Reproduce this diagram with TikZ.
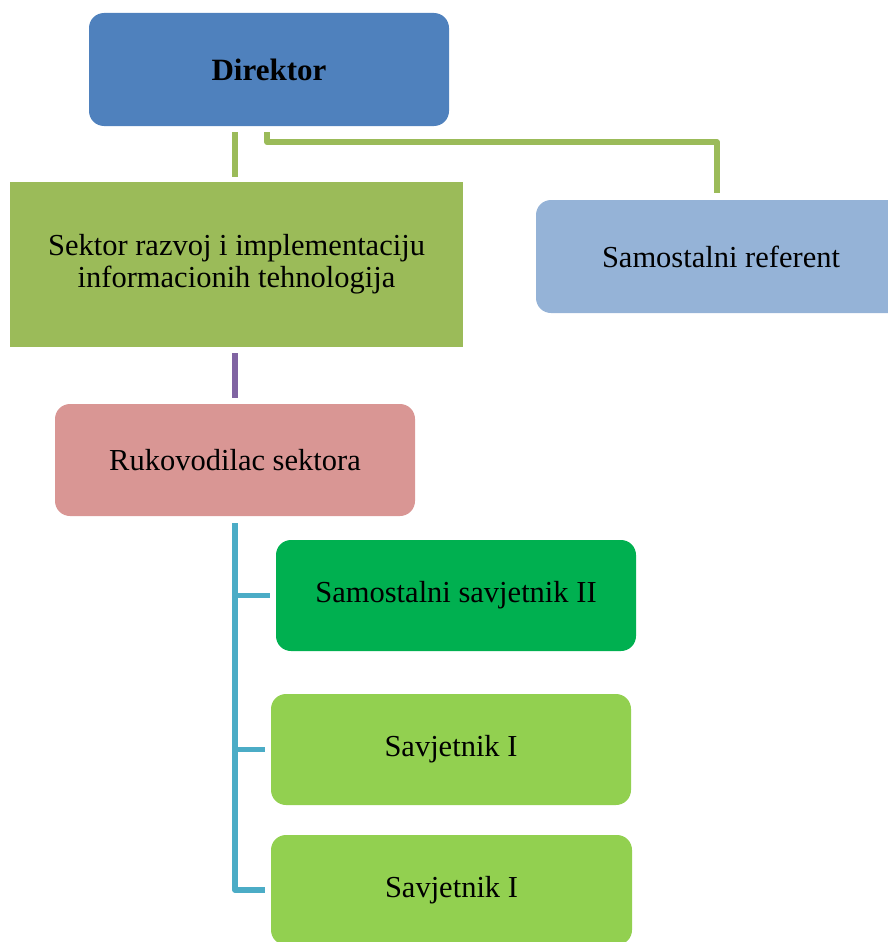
\documentclass[tikz,border=0pt]{standalone}
\usepackage{fontspec}
\setmainfont{Liberation Serif}
\usetikzlibrary{positioning,calc}
\definecolor{dirblue}{HTML}{4F81BD}
\definecolor{sekgreen}{HTML}{9BBB59}
\definecolor{refblue}{HTML}{95B3D7}
\definecolor{rukpink}{HTML}{D99694}
\definecolor{ssgreen}{HTML}{00B050}
\definecolor{svgreen}{HTML}{92D050}
\definecolor{linegreen}{HTML}{9BBB59}
\definecolor{linepurple}{HTML}{8064A2}
\definecolor{lineblue}{HTML}{4BACC6}
\tikzset{
  box/.style={draw=none, rounded corners=15pt, inner sep=0pt, align=center,
    font=\fontsize{30.5}{32}\selectfont, text=black},
  conn/.style={line width=5.5pt, line join=round},
}
\begin{document}
\begin{tikzpicture}[x=1pt,y=1pt]
\useasboundingbox (0,0) rectangle (887,-942);
\node[box, fill=dirblue, minimum width=360pt, minimum height=113pt, font=\fontsize{31}{32}\selectfont\bfseries] (dir) at (269,-69.5) {Direktor};
\node[box, rounded corners=0pt, fill=sekgreen, minimum width=453pt, minimum height=165pt] (sek) at (236.5,-264.5) {Sektor razvoj i implementaciju\\informacionih tehnologija};
\node[box, fill=refblue, minimum width=370pt, minimum height=113pt] (ref) at (721,-256.5) {Samostalni referent};
\node[box, fill=rukpink, minimum width=360pt, minimum height=112pt] (ruk) at (235,-460) {Rukovodilac sektora};
\node[box, fill=ssgreen, minimum width=360pt, minimum height=111pt] (ss2) at (456,-595.5) {Samostalni savjetnik II};
\node[box, fill=svgreen, minimum width=360pt, minimum height=111pt] (sv1) at (451,-749.5) {Savjetnik I};
\node[box, fill=svgreen, minimum width=361pt, minimum height=110pt] (sv2) at (451.5,-890) {Savjetnik I};
% connectors
\draw[conn, linegreen] ([yshift=5pt]sek.north -| ruk.north) -- ++(0,45);
\draw[conn, linegreen] ([xshift=-2pt,yshift=-6pt]dir.south) -- ++(0,-10) -| ([xshift=-4pt,yshift=7pt]ref.north);
\draw[conn, linepurple] ([yshift=6pt]ruk.north) -- ++(0,45);
\draw[conn, lineblue] ([yshift=-7pt]ruk.south) |- ([xshift=-6pt]sv2.west);
\draw[conn, lineblue] (ruk.south |- ss2.west) -- ([xshift=-6pt]ss2.west);
\draw[conn, lineblue] (ruk.south |- sv1.west) -- ([xshift=-6pt]sv1.west);
\end{tikzpicture}
\end{document}
